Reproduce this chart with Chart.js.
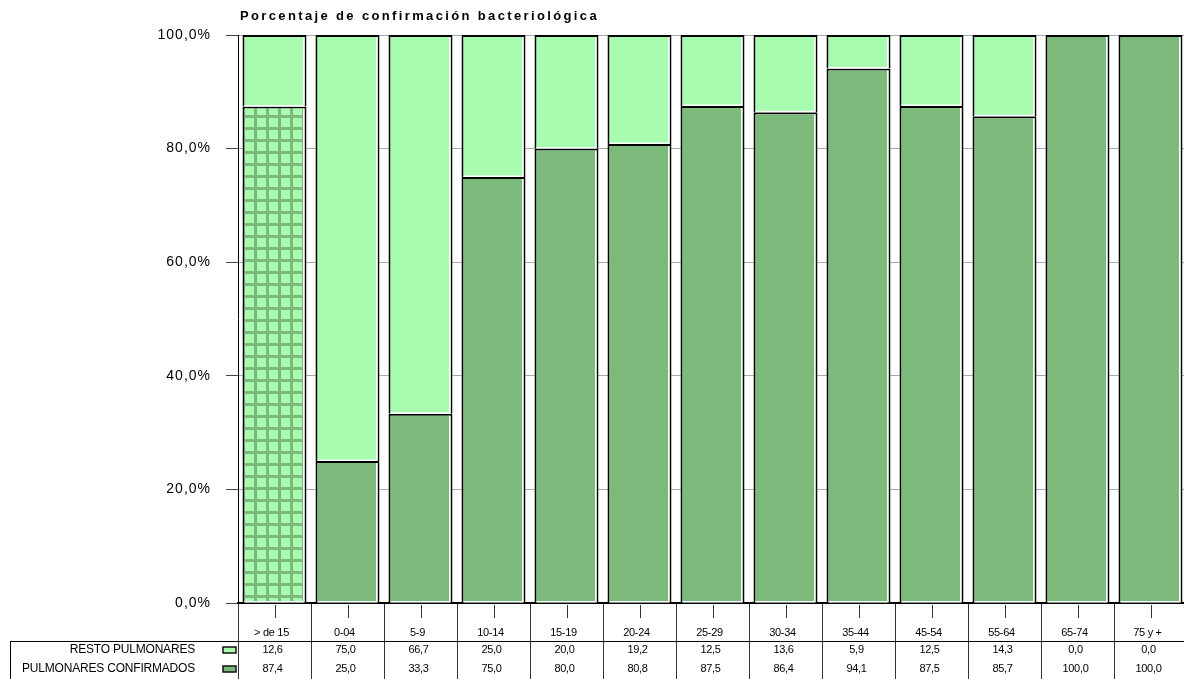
<!DOCTYPE html>
<html>
<head>
<meta charset="utf-8">
<script src="https://cdn.jsdelivr.net/npm/chart.js@4.4.0/dist/chart.umd.min.js"></script>
<style>
  html, body { margin: 0; padding: 0; background: #fff; overflow: hidden; }
  #wrap { width: 1184px; height: 679px; overflow: hidden; }
</style>
</head>
<body>
<div id="wrap"><canvas id="grafica" width="1190" height="679"></canvas></div>
<script>
const titulo = 'Porcentaje de confirmación bacteriológica';
const categorias = ['> de 15', '0-04', '5-9', '10-14', '15-19', '20-24', '25-29', '30-34', '35-44', '45-54', '55-64', '65-74', '75 y +'];
const resto = [12.6, 75.0, 66.7, 25.0, 20.0, 19.2, 12.5, 13.6, 5.9, 12.5, 14.3, 0.0, 0.0];
const confirmados = [87.4, 25.0, 33.3, 75.0, 80.0, 80.8, 87.5, 86.4, 94.1, 87.5, 85.7, 100.0, 100.0];
const ticksY = [0, 20, 40, 60, 80, 100];
const filas = ['RESTO PULMONARES', 'PULMONARES CONFIRMADOS'];

const verdeClaro = '#A7FCAF';
const verdeOscuro = '#7CBA7B';
const fuente = '"Liberation Sans", Arial, sans-serif';

const coma = v => v.toFixed(1).replace('.', ',');

const canvas = document.getElementById('grafica');
const ctx = canvas.getContext('2d');

// cuadricula del primer grupo (> de 15)
function cuadricula() {
    const c = document.createElement('canvas');
    c.width = 12;
    c.height = 12;
    const g = c.getContext('2d');
    g.fillStyle = verdeClaro;
    g.fillRect(0, 0, 12, 12);
    g.fillStyle = verdeOscuro;
    g.fillRect(2, 0, 3, 12);
    g.fillRect(0, 7, 12, 3);
    return ctx.createPattern(c, 'repeat');
}

const fondoConfirmados = confirmados.map((v, i) => i === 0 ? cuadricula() : verdeOscuro);

const tabla = {
    id: 'tabla',
    beforeDraw(chart) {
        chart.ctx.letterSpacing = '1px';
    },
    beforeDatasetsDraw(chart) {
        chart.ctx.letterSpacing = '0px';
    },
    afterDatasetsDraw(chart) {
        // brillo blanco interior (derecha y abajo)
        const c = chart.ctx;
        c.save();
        c.strokeStyle = '#fff';
        c.lineWidth = 1.5;
        chart.data.datasets.forEach((ds, d) => {
            chart.getDatasetMeta(d).data.forEach(bar => {
                const top = Math.min(bar.y, bar.base);
                const bottom = Math.max(bar.y, bar.base);
                if (bottom - top < 4) return;
                const left = bar.x - bar.width / 2;
                const right = bar.x + bar.width / 2;
                c.beginPath();
                c.moveTo(right - 2.75, top + 2);
                c.lineTo(right - 2.75, bottom - 0.75);
                c.moveTo(left + 2, bottom - 0.75);
                c.lineTo(right - 2, bottom - 0.75);
                c.stroke();
            });
        });
        c.restore();
    },
    afterDraw(chart) {
        const c = chart.ctx;
        const x = chart.scales.x;
        const area = chart.chartArea;
        c.save();

        // titulo
        c.font = 'bold 13px ' + fuente;
        c.fillStyle = '#000';
        c.textAlign = 'left';
        c.textBaseline = 'alphabetic';
        c.letterSpacing = '0px';
        const w = c.measureText(titulo).width;
        c.letterSpacing = ((359 - w) / titulo.length) + 'px';
        c.fillText(titulo, 240, 20);
        c.letterSpacing = '0px';

        // marcas centrales del eje x
        c.strokeStyle = '#333';
        c.lineWidth = 1;
        categorias.forEach((cat, i) => {
            const px = Math.round(x.getPixelForValue(i)) + 0.5;
            c.beginPath();
            c.moveTo(px, area.bottom + 2);
            c.lineTo(px, area.bottom + 15);
            c.stroke();
        });

        // lineas de la tabla
        c.strokeStyle = '#000';
        c.beginPath();
        c.moveTo(10, 641.5);
        c.lineTo(chart.width, 641.5);
        c.moveTo(10.5, 641);
        c.lineTo(10.5, chart.height);
        c.stroke();

        // categorias
        c.font = '11px ' + fuente;
        c.textAlign = 'center';
        c.textBaseline = 'middle';
        c.letterSpacing = '-0.3px';
        categorias.forEach((cat, i) => {
            c.fillText(cat, x.getPixelForValue(i) - 3, 633);
        });

        // valores
        const filasY = [650, 669];
        [resto, confirmados].forEach((serie, f) => {
            serie.forEach((v, i) => {
                c.fillText(coma(v), x.getPixelForValue(i) - 2, filasY[f]);
            });
        });

        // nombres de fila y muestras de color
        c.font = '12px ' + fuente;
        c.textAlign = 'right';
        c.letterSpacing = '-0.2px';
        filas.forEach((nombre, f) => {
            c.fillText(nombre, 195, filasY[f]);
            c.fillStyle = f === 0 ? verdeClaro : verdeOscuro;
            c.fillRect(223, filasY[f] - 3, 13, 6);
            c.strokeStyle = '#111';
            c.lineWidth = 1.5;
            c.strokeRect(223, filasY[f] - 3, 13, 6);
            c.fillStyle = '#000';
        });

        c.restore();
    }
};

new Chart(ctx, {
    type: 'bar',
    data: {
        labels: categorias,
        datasets: [
            {
                label: filas[1],
                data: confirmados,
                backgroundColor: fondoConfirmados,
                borderColor: '#000',
                borderWidth: 2,
                barPercentage: 0.877,
                categoryPercentage: 1
            },
            {
                label: filas[0],
                data: resto,
                backgroundColor: verdeClaro,
                borderColor: '#000',
                borderWidth: 2,
                barPercentage: 0.877,
                categoryPercentage: 1
            }
        ]
    },
    options: {
        responsive: false,
        animation: false,
        layout: { padding: { top: 35, right: 3, bottom: 0, left: 0 } },
        plugins: {
            legend: { display: false },
            title: { display: false },
            tooltip: { enabled: false }
        },
        scales: {
            x: {
                stacked: true,
                ticks: { display: false },
                grid: {
                    drawOnChartArea: false,
                    drawTicks: true,
                    tickLength: 76,
                    tickColor: '#333',
                    offset: true
                },
                border: { color: '#000', width: 2 },
                afterFit(scale) { scale.height = 76; }
            },
            y: {
                stacked: true,
                min: 0,
                max: 100,
                afterBuildTicks(scale) {
                    scale.ticks = ticksY.map(v => ({ value: v }));
                },
                ticks: {
                    padding: 15,
                    color: '#000',
                    font: { family: fuente, size: 14 },
                    callback: v => coma(v) + '%'
                },
                grid: {
                    color: '#a8a8a8',
                    lineWidth: 1,
                    tickLength: 12,
                    tickColor: '#444'
                },
                border: { color: '#000', width: 1 },
                afterFit(scale) { scale.width = 238; }
            }
        }
    },
    plugins: [tabla]
});
</script>
</body>
</html>
